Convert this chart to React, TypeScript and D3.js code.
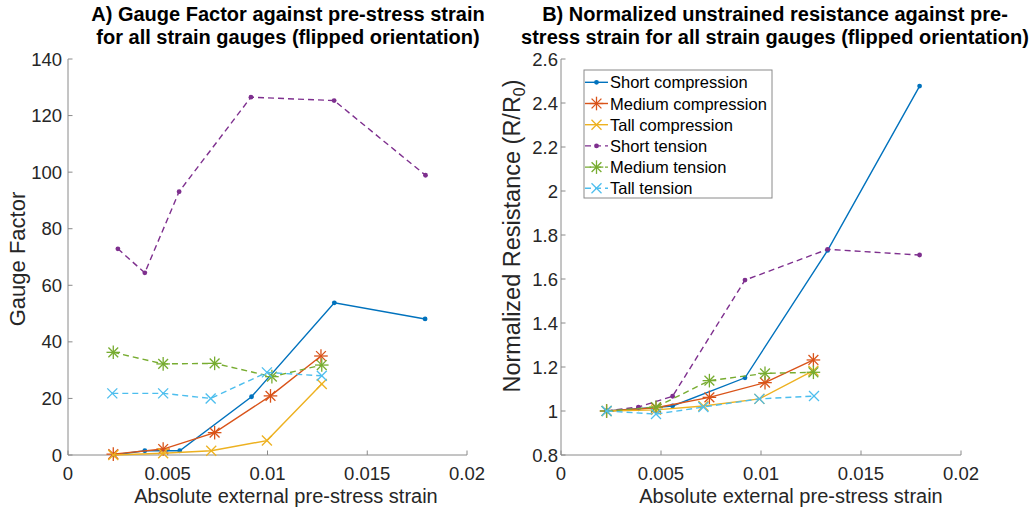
import React from "react";
import * as d3 from "d3";

// ---------- data ----------
const seriesNames = [
  "Short compression",
  "Medium compression",
  "Tall compression",
  "Short tension",
  "Medium tension",
  "Tall tension",
];
const seriesColors = ["#0072BD", "#D95319", "#EDB120", "#7E2F8E", "#77AC30", "#4DBEEE"];
const seriesDashed = [false, false, false, true, true, true];
const seriesMarkers = ["dot", "star", "x", "dot", "star", "x"];

// Panel A: Gauge factor
const shortCompAX = [0.0023, 0.00385, 0.0056, 0.0092, 0.01335, 0.0179];
const shortCompAY = [0, 1.5, 1.5, 20.6, 53.8, 48.1];
const mediumCompAX = [0.00227, 0.00477, 0.00735, 0.01015, 0.01268];
const mediumCompAY = [0.3, 2.1, 7.9, 20.9, 35.0];
const tallCompAX = [0.00227, 0.00477, 0.00718, 0.00997, 0.01272];
const tallCompAY = [0, 0.6, 1.5, 5.1, 25.1];
const shortTensAX = [0.0025, 0.00385, 0.00557, 0.00917, 0.01334, 0.01792];
const shortTensAY = [72.9, 64.4, 93.1, 126.5, 125.3, 98.9];
const mediumTensAX = [0.00227, 0.00477, 0.00735, 0.01022, 0.01272];
const mediumTensAY = [36.3, 32.2, 32.4, 27.7, 31.8];
const tallTensAX = [0.00222, 0.00477, 0.00715, 0.00997, 0.01272];
const tallTensAY = [21.8, 21.8, 20.0, 29.2, 28.0];

// Panel B: normalized resistance
const shortCompBX = [0.00228, 0.00387, 0.00558, 0.0092, 0.01333, 0.01793];
const shortCompBY = [1.0, 1.01, 1.023, 1.151, 1.73, 2.477];
const mediumCompBX = [0.00228, 0.00475, 0.00742, 0.0102, 0.01262];
const mediumCompBY = [1.0, 1.015, 1.062, 1.129, 1.232];
const tallCompBX = [0.00228, 0.00475, 0.00712, 0.00992, 0.01262];
const tallCompBY = [1.0, 1.005, 1.023, 1.055, 1.183];
const shortTensBX = [0.00228, 0.00387, 0.00558, 0.0092, 0.01333, 0.01793];
const shortTensBY = [1.0, 1.018, 1.067, 1.595, 1.735, 1.709];
const mediumTensBX = [0.00228, 0.00475, 0.00742, 0.0102, 0.01262];
const mediumTensBY = [1.0, 1.018, 1.138, 1.171, 1.176];
const tallTensBX = [0.00228, 0.00475, 0.00712, 0.00992, 0.01265];
const tallTensBY = [1.0, 0.986, 1.018, 1.055, 1.068];

const xTicks = [0, 0.005, 0.01, 0.015, 0.02];
const xTickLabels = ["0", "0.005", "0.01", "0.015", "0.02"];
const yTicksA = [0, 20, 40, 60, 80, 100, 120, 140];
const yTicksB = [0.8, 1, 1.2, 1.4, 1.6, 1.8, 2, 2.2, 2.4, 2.6];
const yTickLabelsB = ["0.8", "1", "1.2", "1.4", "1.6", "1.8", "2", "2.2", "2.4", "2.6"];

const panelAX = [shortCompAX, mediumCompAX, tallCompAX, shortTensAX, mediumTensAX, tallTensAX];
const panelAY = [shortCompAY, mediumCompAY, tallCompAY, shortTensAY, mediumTensAY, tallTensAY];
const panelBX = [shortCompBX, mediumCompBX, tallCompBX, shortTensBX, mediumTensBX, tallTensBX];
const panelBY = [shortCompBY, mediumCompBY, tallCompBY, shortTensBY, mediumTensBY, tallTensBY];

const FONT = "'Liberation Sans', Arial, Helvetica, sans-serif";
const TEXT = "#262626";
const AXIS = "#8a8a8a";

function Marker({ type, x, y, color }: { type: string; x: number; y: number; color: string }) {
  if (type === "dot") return <circle cx={x} cy={y} r={2.4} fill={color} />;
  if (type === "star") {
    const r = 6.8;
    const d = r * 0.72;
    return (
      <g stroke={color} strokeWidth={1.3}>
        <line x1={x - r} y1={y} x2={x + r} y2={y} />
        <line x1={x} y1={y - r} x2={x} y2={y + r} />
        <line x1={x - d} y1={y - d} x2={x + d} y2={y + d} />
        <line x1={x - d} y1={y + d} x2={x + d} y2={y - d} />
      </g>
    );
  }
  const r = 5;
  return (
    <g stroke={color} strokeWidth={1.3}>
      <line x1={x - r} y1={y - r} x2={x + r} y2={y + r} />
      <line x1={x - r} y1={y + r} x2={x + r} y2={y - r} />
    </g>
  );
}

type PanelProps = {
  x0: number;
  x1: number;
  yDomain: [number, number];
  yTicks: number[];
  yTickLabels: string[];
  xs: number[][];
  ys: number[][];
  labelGap: number;
};

function Panel({ x0, x1, yDomain, yTicks, yTickLabels, xs, ys, labelGap }: PanelProps) {
  const xScale = d3.scaleLinear().domain([0, 0.02]).range([x0, x1]);
  const yScale = d3.scaleLinear().domain(yDomain).range([455, 59]);
  const tick = 4.5;
  return (
    <g>
      <line x1={x0} y1={yScale.range()[0]} x2={x1} y2={yScale.range()[0]} stroke={AXIS} strokeWidth={1} />
      <line x1={x0} y1={yScale.range()[0]} x2={x0} y2={yScale.range()[1]} stroke={AXIS} strokeWidth={1} />
      {xTicks.map((t, i) => (
        <g key={"xt" + i}>
          <line x1={xScale(t)} x2={xScale(t)} y1={455} y2={455 - tick} stroke={AXIS} />
          <text x={xScale(t)} y={480} textAnchor="middle" fontSize={18.5} fill={TEXT} fontFamily={FONT}>
            {xTickLabels[i]}
          </text>
        </g>
      ))}
      {yTicks.map((t, i) => (
        <g key={"yt" + i}>
          <line x1={x0} x2={x0 + tick} y1={yScale(t)} y2={yScale(t)} stroke={AXIS} />
          <text
            x={x0 - labelGap}
            y={yScale(t) + 6.5}
            textAnchor="end"
            fontSize={18.5}
            fill={TEXT}
            fontFamily={FONT}
          >
            {yTickLabels[i]}
          </text>
        </g>
      ))}
      {xs.map((sx, si) => {
        const pts: [number, number][] = sx.map((v, j) => [xScale(v), yScale(ys[si][j])]);
        const path = d3.line()(pts) || "";
        return (
          <g key={"s" + si}>
            <path
              d={path}
              fill="none"
              stroke={seriesColors[si]}
              strokeWidth={1.4}
              strokeDasharray={seriesDashed[si] ? "6,4" : undefined}
            />
            {pts.map((p, j) => (
              <Marker key={j} type={seriesMarkers[si]} x={p[0]} y={p[1]} color={seriesColors[si]} />
            ))}
          </g>
        );
      })}
    </g>
  );
}

export default function App() {
  const legendX = 584;
  const legendY = 70;
  const rowH = 21.2;
  return (
    <div style={{ position: "absolute", left: 0, top: 0 }}>
      <svg width={1034} height={512} style={{ display: "block", background: "#fff" }}>
        <rect width={1034} height={512} fill="#fff" />
        <g fontFamily={FONT} fontWeight="bold" fontSize={20} fill="#000" textAnchor="middle">
          <text x={288} y={20.5}>A) Gauge Factor against pre-stress strain</text>
          <text x={288} y={44}>for all strain gauges (flipped orientation)</text>
          <text x={775} y={20.5}>B) Normalized unstrained resistance against pre-</text>
          <text x={775} y={44}>stress strain for all strain gauges (flipped orientation)</text>
        </g>
        <Panel
          x0={68}
          x1={467}
          yDomain={[0, 140]}
          yTicks={yTicksA}
          yTickLabels={yTicksA.map(String)}
          xs={panelAX}
          ys={panelAY}
          labelGap={6}
        />
        <Panel
          x0={561}
          x1={961}
          yDomain={[0.8, 2.6]}
          yTicks={yTicksB}
          yTickLabels={yTickLabelsB}
          xs={panelBX}
          ys={panelBY}
          labelGap={3}
        />
        <g fontFamily={FONT} fill={TEXT}>
          <text x={286} y={503} fontSize={20} textAnchor="middle">
            Absolute external pre-stress strain
          </text>
          <text x={791} y={503} fontSize={20} textAnchor="middle">
            Absolute external pre-stress strain
          </text>
          <text transform="translate(25,259) rotate(-90)" fontSize={22} textAnchor="middle">
            Gauge Factor
          </text>
          <text transform="translate(520,236) rotate(-90)" fontSize={23.5} textAnchor="middle">
            Normalized Resistance (R/R
            <tspan fontSize={16} dy={5}>0</tspan>
            <tspan dy={-5}>)</tspan>
          </text>
        </g>
        <g>
          <rect x={legendX} y={legendY} width={188} height={128} fill="#fff" stroke={AXIS} strokeWidth={1} />
          {seriesNames.map((name, i) => {
            const cy = legendY + 12.3 + i * rowH;
            return (
              <g key={name}>
                <line
                  x1={legendX + 1}
                  x2={legendX + 24}
                  y1={cy}
                  y2={cy}
                  stroke={seriesColors[i]}
                  strokeWidth={1.4}
                  strokeDasharray={seriesDashed[i] ? "6,4" : undefined}
                />
                <Marker type={seriesMarkers[i]} x={legendX + 12.5} y={cy} color={seriesColors[i]} />
                <text x={legendX + 26} y={cy + 6} fontSize={16.5} fill="#000" fontFamily={FONT}>
                  {name}
                </text>
              </g>
            );
          })}
        </g>
      </svg>
    </div>
  );
}
